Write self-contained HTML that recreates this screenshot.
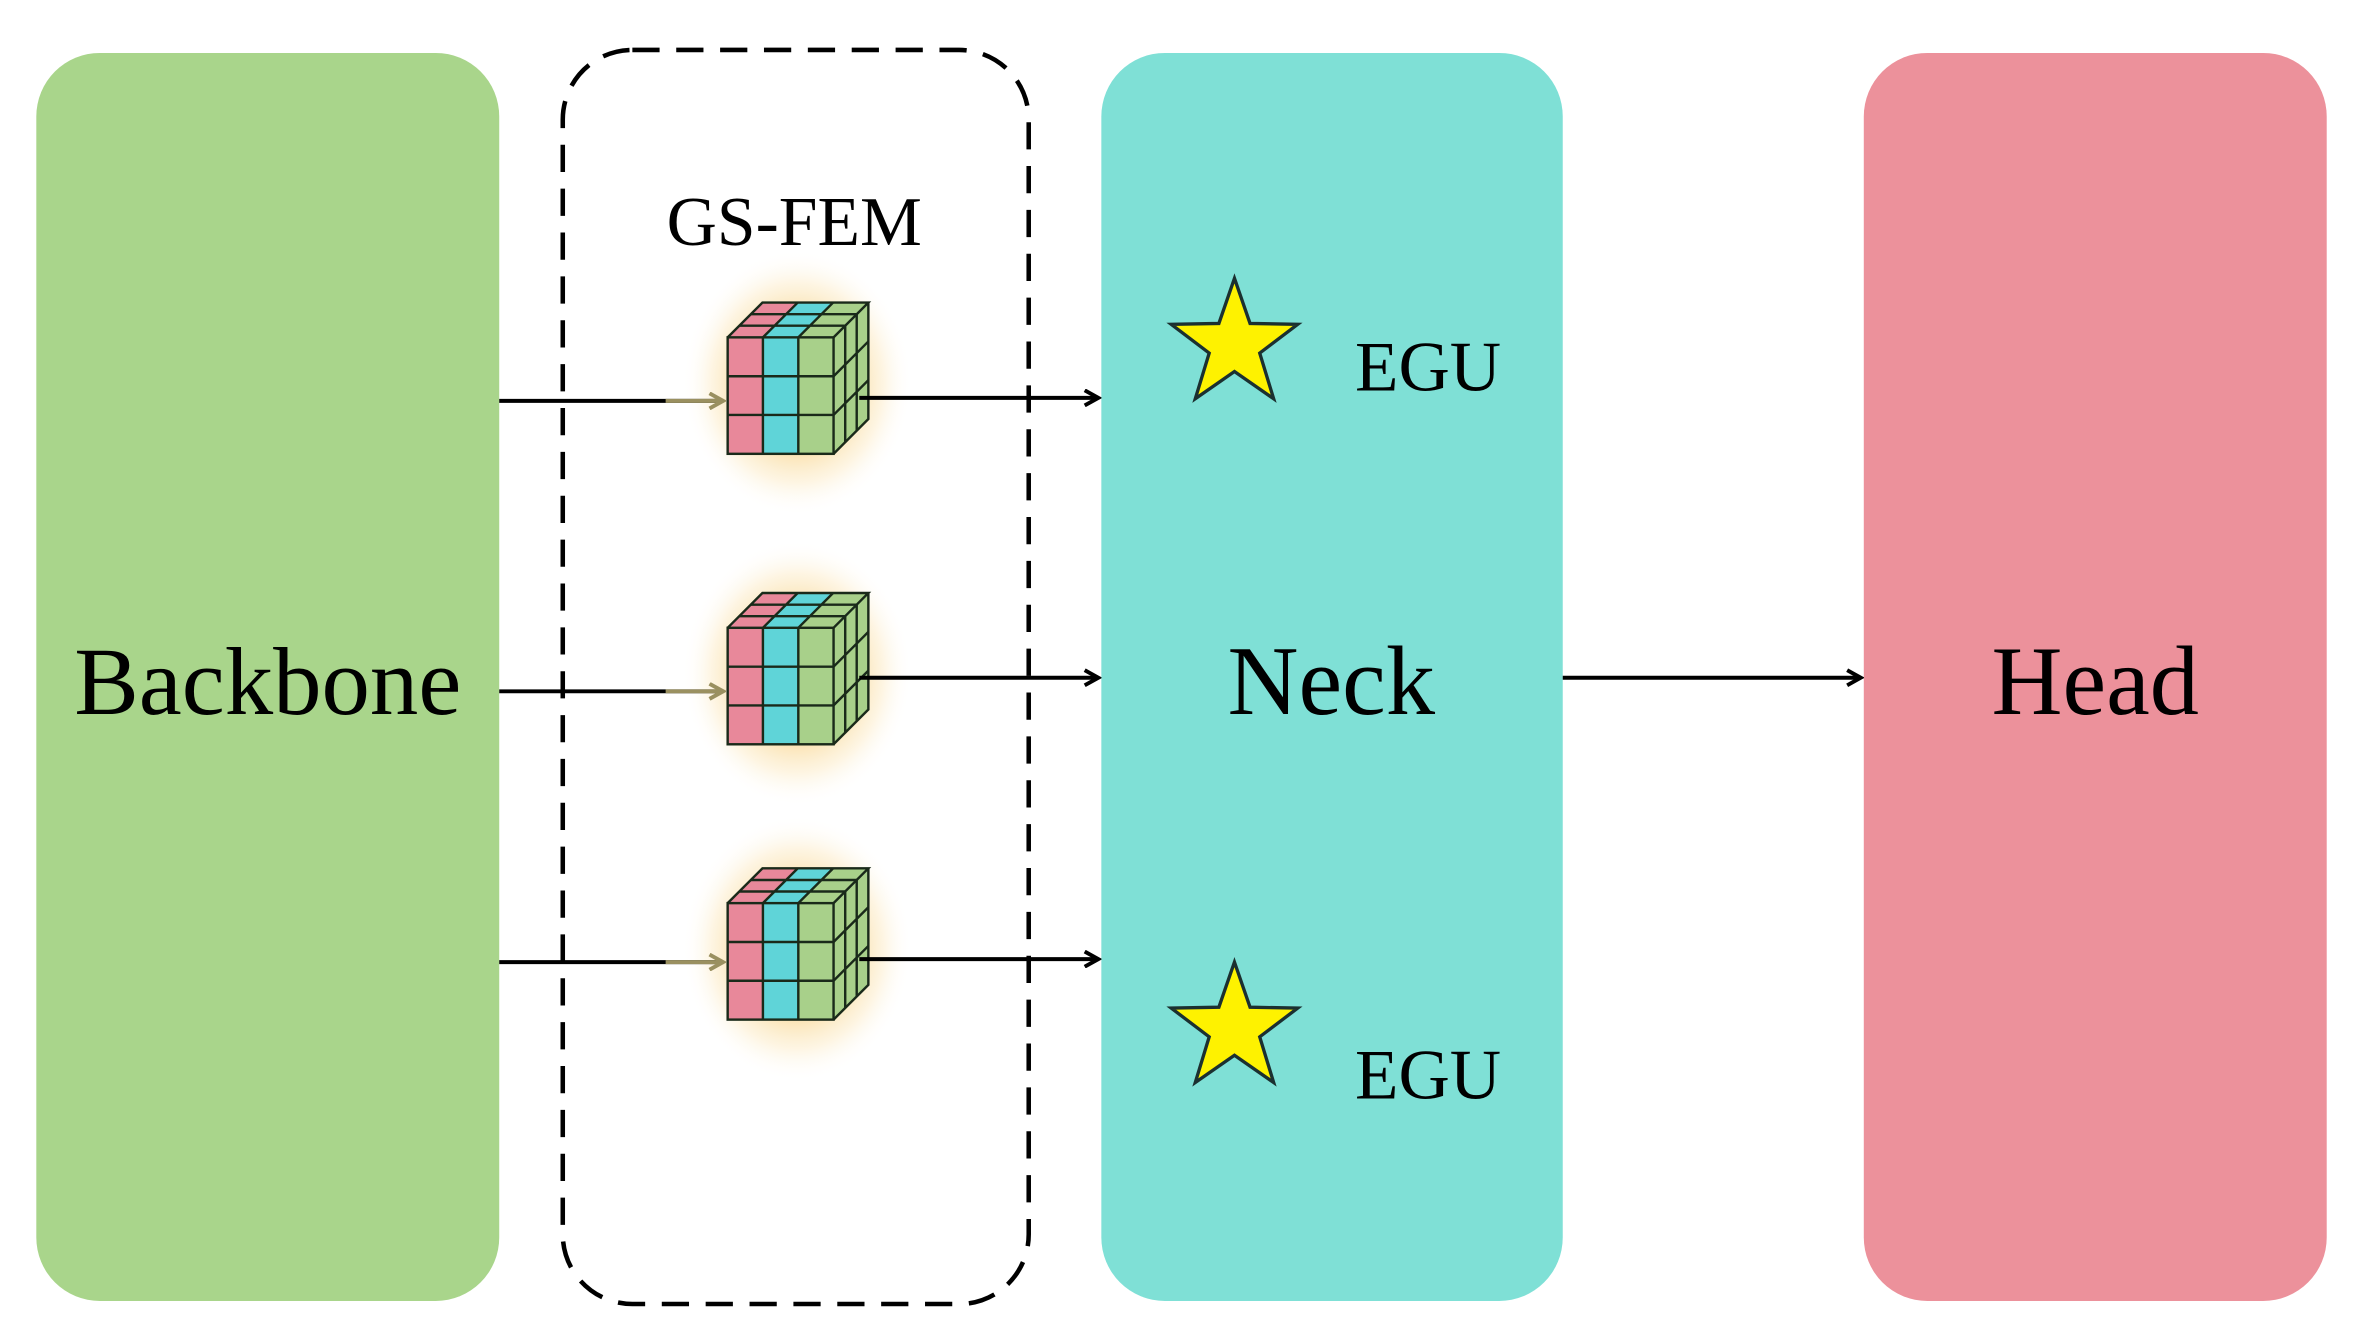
<!DOCTYPE html>
<html><head><meta charset="utf-8"><style>
html,body{margin:0;padding:0;background:#fff;}
svg{display:block;}
text{font-family:"Liberation Serif",serif;fill:#000;}
</style></head><body>
<svg width="2360" height="1332" viewBox="0 0 1560 880.5" preserveAspectRatio="none" xmlns="http://www.w3.org/2000/svg">
<defs>
<radialGradient id="glow" cx="0.5" cy="0.5" r="0.5">
<stop offset="0" stop-color="#f2b040" stop-opacity="1"/>
<stop offset="0.45" stop-color="#f8d286" stop-opacity="0.8"/>
<stop offset="0.75" stop-color="#fcebc6" stop-opacity="0.5"/>
<stop offset="1" stop-color="#ffffff" stop-opacity="0"/>
</radialGradient>
<marker id="ah" markerWidth="12" markerHeight="12" refX="10" refY="6" orient="auto" markerUnits="userSpaceOnUse">
<path d="M1,1 L10,6 L1,11" fill="none" stroke="#000" stroke-width="2.6"/>
</marker>
<marker id="ah2" markerWidth="12" markerHeight="12" refX="10" refY="6" orient="auto" markerUnits="userSpaceOnUse">
<path d="M1,1 L10,6 L1,11" fill="none" stroke="#9a9060" stroke-width="2.6"/>
</marker>
<g id="cube">
<ellipse cx="46" cy="30" rx="76" ry="88" fill="url(#glow)"/>
<path d="M0,0 L23,-23 L93,-23 L70,0 Z" fill="#a8d08a"/>
<path d="M0,0 L23,-23 L46.3,-23 L23.3,0 Z" fill="#e8889a"/>
<path d="M23.3,0 L46.3,-23 L69.7,-23 L46.7,0 Z" fill="#5fd4d8"/>
<path d="M70,0 L93,-23 L93,54 L70,77 Z" fill="#a8d08a"/>
<rect x="0" y="0" width="23.3" height="77" fill="#e8889a"/>
<rect x="23.3" y="0" width="23.4" height="77" fill="#5fd4d8"/>
<rect x="46.7" y="0" width="23.3" height="77" fill="#a8d08a"/>
<g fill="none" stroke="#1a2a1a" stroke-width="1.6">
<rect x="0" y="0" width="70" height="77"/>
<path d="M23.3,0 V77 M46.7,0 V77 M0,25.7 H70 M0,51.3 H70"/>
<path d="M0,0 L23,-23 L93,-23 L70,0 M93,-23 V54 L70,77"/>
<path d="M7.7,-7.7 H77.7 M15.3,-15.3 H85.3 M23.3,0 L46.3,-23 M46.7,0 L69.7,-23"/>
<path d="M77.7,-7.7 V69.3 M85.3,-15.3 V61.7 M70,25.7 L93,2.7 M70,51.3 L93,28.3"/>
</g>
</g>
<g id="star">
<polygon points="0,-44 10.3,-14.2 41.8,-13.6 16.7,5.4 25.9,35.6 0,17.6 -25.9,35.6 -16.7,5.4 -41.8,-13.6 -10.3,-14.2" fill="#fef200" stroke="#1b3030" stroke-width="2.2"/>
</g>
</defs>

<rect x="24" y="35" width="306" height="825" rx="42" fill="#a9d58b"/>
<rect x="728" y="35" width="305" height="825" rx="42" fill="#7fe0d6"/>
<rect x="1232" y="35" width="306" height="825" rx="42" fill="#ec919b"/>
<rect x="372" y="33" width="308" height="829" rx="46" fill="none" stroke="#000" stroke-width="3" stroke-dasharray="18,11"/>

<text x="525" y="162" font-size="46" text-anchor="middle">GS-FEM</text>
<text x="177" y="472" font-size="64" text-anchor="middle">Backbone</text>
<text x="880" y="472" font-size="65" text-anchor="middle">Neck</text>
<text x="1385" y="472" font-size="65" text-anchor="middle">Head</text>
<text x="944" y="258" font-size="47" text-anchor="middle">EGU</text>
<text x="944" y="726" font-size="47" text-anchor="middle">EGU</text>

<use href="#star" x="816" y="228"/>
<use href="#star" x="816" y="680"/>

<use href="#cube" x="481" y="223"/>
<use href="#cube" x="481" y="415"/>
<use href="#cube" x="481" y="597"/>

<g stroke-width="2.6" fill="none">
<path d="M330,265 H478" stroke="#000"/>
<path d="M440,265 H478" stroke="#9a9060" marker-end="url(#ah2)"/>
<path d="M330,457 H478" stroke="#000"/>
<path d="M440,457 H478" stroke="#9a9060" marker-end="url(#ah2)"/>
<path d="M330,636 H478" stroke="#000"/>
<path d="M440,636 H478" stroke="#9a9060" marker-end="url(#ah2)"/>
<path d="M568,263 H726" stroke="#000" marker-end="url(#ah)"/>
<path d="M568,448 H726" stroke="#000" marker-end="url(#ah)"/>
<path d="M568,634 H726" stroke="#000" marker-end="url(#ah)"/>
<path d="M1033,448 H1230" stroke="#000" marker-end="url(#ah)"/>
</g>
</svg>
</body></html>
